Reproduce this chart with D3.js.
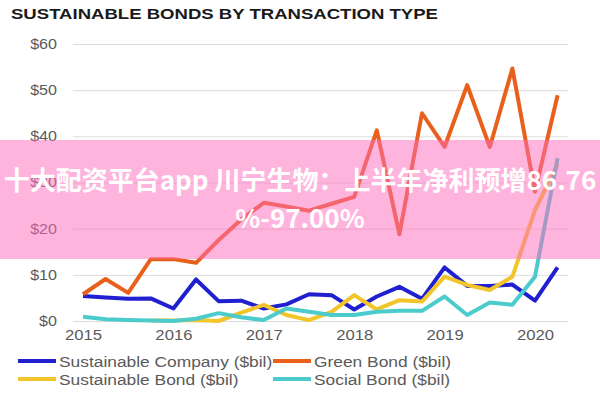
<!DOCTYPE html>
<html>
<head>
<meta charset="utf-8">
<script src="https://cdn.jsdelivr.net/npm/d3@7"></script>
<style>
  body { margin: 0; background: #fff; }
  svg { display: block; font-family: "Liberation Sans", Arial, sans-serif; }
</style>
</head>
<body>
<svg id="chart" width="600" height="400"></svg>
<script>
// ---- Data ----
const quarters = d3.range(22).map(i => 2015 + i * 0.25);
const seriesNames = ["Sustainable Company ($bil)", "Green Bond ($bil)", "Sustainable Bond ($bil)", "Social Bond ($bil)"];
const sustainableCompany = [5.4, 5.1, 4.8, 4.9, 2.7, 9.0, 4.3, 4.4, 2.7, 3.6, 5.8, 5.6, 2.5, 5.3, 7.4, 4.8, 11.6, 7.6, 7.6, 7.9, 4.4, 11.6];
const greenBond = [5.8, 9.1, 6.1, 13.4, 13.4, 12.6, 17.5, 22.0, 25.6, 24.8, 23.9, 25.4, 26.9, 41.3, 18.8, 45.0, 37.7, 51.1, 37.7, 54.7, 28.0, 48.9];
const sustainableBond = [null, null, null, 0.1, 0.1, 0.2, 0.0, 1.8, 3.5, 1.3, 0.2, 2.0, 5.6, 2.5, 4.5, 4.2, 9.6, 7.8, 6.7, 9.6, 24.0, 34.0];
const socialBond = [0.9, 0.4, 0.2, 0.1, 0.0, 0.5, 1.7, 0.8, 0.2, 2.7, 2.0, 1.3, 1.3, 2.0, 2.2, 2.2, 5.3, 1.3, 4.0, 3.5, 9.6, 35.3];
const yTicks = [0, 10, 20, 30, 40, 50, 60];
const xTicks = [2015, 2016, 2017, 2018, 2019, 2020];
const title = "SUSTAINABLE BONDS BY TRANSACTION TYPE";
const bannerLines = ["十大配资平台app 川宁生物：上半年净利预增86.76", "%-97.00%"];

const colors = ["#2020d0", "#e8601c", "#f2c52a", "#4ccbcc"];
const allSeries = [sustainableCompany, greenBond, sustainableBond, socialBond];

function widen(stretch) {
  return sel => sel.each(function () {
    const w = this.getComputedTextLength();
    d3.select(this).attr("textLength", w * stretch).attr("lengthAdjust", "spacingAndGlyphs");
  });
}

// ---- Chart ----
const svg = d3.select("#chart");
const x = d3.scaleLinear().domain([2015, 2020]).range([83, 535]);
const y = d3.scaleLinear().domain([0, 60]).range([321, 44]);

svg.append("text")
  .attr("x", 11).attr("y", 19)
  .attr("font-size", 15).attr("font-weight", "bold").attr("fill", "#1a1a1a")
  .attr("textLength", 427).attr("lengthAdjust", "spacingAndGlyphs")
  .text(title);

const yAxis = svg.append("g").attr("transform", "translate(73,0)")
  .call(d3.axisLeft(y).tickValues(yTicks).tickFormat(d => "$" + d).tickSize(-495).tickPadding(16));
yAxis.select(".domain").remove();
yAxis.selectAll(".tick line").attr("stroke", "#dcdcdc").attr("stroke-width", 1);
yAxis.selectAll(".tick text").attr("fill", "#5a5a5a").attr("font-size", 14)
  .attr("font-family", "Liberation Sans, Arial, sans-serif").call(widen(1.15));

const xAxis = svg.append("g").attr("transform", "translate(0,321)")
  .call(d3.axisBottom(x).tickValues(xTicks).tickFormat(d3.format("d")).tickSize(0).tickPadding(9));
xAxis.select(".domain").remove();
xAxis.selectAll(".tick text").attr("fill", "#5a5a5a").attr("font-size", 14.5)
  .attr("font-family", "Liberation Sans, Arial, sans-serif").call(widen(1.15));

const line = d3.line()
  .defined(d => d.v !== null)
  .x(d => x(d.t)).y(d => y(d.v));

allSeries.forEach((s, k) => {
  svg.append("path")
    .datum(quarters.map((t, i) => ({ t, v: s[i] })))
    .attr("fill", "none")
    .attr("stroke", colors[k])
    .attr("stroke-width", 4)
    .attr("stroke-linejoin", "round")
    .attr("d", line);
});

// ---- Legend ----
const legendPos = [[18, 361], [273, 361], [18, 379], [273, 379]];
seriesNames.forEach((name, k) => {
  const [lx, ly] = legendPos[k];
  svg.append("line").attr("x1", lx).attr("x2", lx + 38).attr("y1", ly).attr("y2", ly)
    .attr("stroke", colors[k]).attr("stroke-width", 4);
  svg.append("text").attr("x", lx + 41).attr("y", ly + 5.5)
    .attr("font-size", 15.5).attr("fill", "#5a5a5a").text(name).call(widen(1.12));
});

// ---- Overlay banner ----
svg.append("rect").attr("x", 0).attr("y", 140).attr("width", 600).attr("height", 119)
  .attr("fill", "rgb(255,105,190)").attr("fill-opacity", 0.5);
svg.append("text").attr("x", 300).attr("y", 190)
  .attr("text-anchor", "middle")
  .attr("font-family", "Noto Sans CJK SC, sans-serif")
  .attr("font-size", 26).attr("font-weight", "bold").attr("fill", "#fff")
  .text(bannerLines[0]);
svg.append("text").attr("x", 300).attr("y", 228)
  .attr("text-anchor", "middle")
  .attr("font-family", "Noto Sans CJK SC, sans-serif")
  .attr("font-size", 26).attr("font-weight", "bold").attr("fill", "#fff")
  .text(bannerLines[1]);
</script>
</body>
</html>
